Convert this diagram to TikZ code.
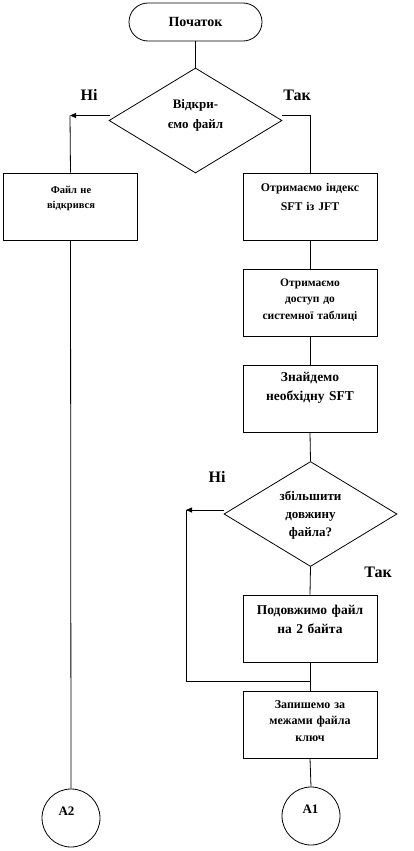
\documentclass[tikz,border=0pt]{standalone}
\usepackage{fontspec}
\setmainfont{Liberation Serif}
\usetikzlibrary{shapes.geometric,arrows.meta}
\tikzset{
  line/.style={draw=black, line width=0.8pt},
  procbox/.style={line, rectangle, minimum width=134pt, minimum height=67pt, inner sep=0pt},
  termbox/.style={line, rectangle, rounded corners=19pt, minimum width=133pt, minimum height=38pt, inner sep=0pt, font=\bfseries\fontsize{14}{16}\selectfont},
  decis/.style={line, diamond, minimum width=173pt, minimum height=105pt, inner sep=0pt},
  conn/.style={line, circle, minimum size=58pt, inner sep=0pt},
  boxtext/.style={align=center, inner sep=0pt, font=\bfseries\fontsize{11.5}{17}\selectfont},
  branch/.style={inner sep=0pt, font=\bfseries\fontsize{16}{18}\selectfont},
  arr/.style={line, -{Triangle[length=6pt,width=5pt]}}
}
\begin{document}
\begin{tikzpicture}[x=1pt,y=-1pt]
\useasboundingbox (0,0) rectangle (414,851);
% nodes
\node[termbox] (start) at (195.5,22) {Початок};
\node[decis] (d1) at (195.5,120.5) {};
\node[boxtext, text width=110pt, font=\bfseries\fontsize{13}{20}\selectfont] (d1t) at (195.5,115.5) {Відкри-\\ємо файл};
\node[branch] (no1) at (89,95) {Ні};
\node[branch] (yes1) at (297,95) {Так};
\node[procbox] (fail) at (70.5,206.5) {};
\node[boxtext, text width=130pt, font=\bfseries\fontsize{10.5}{15.5}\selectfont] (failt) at (71,198.5) {Файл не\\відкрився};
\node[procbox] (b1) at (310,206.5) {};
\node[boxtext, text width=134pt, font=\bfseries\fontsize{11.8}{19}\selectfont] (b1t) at (310,196.5) {Отримаємо індекс\\SFT із JFT};
\node[procbox] (b2) at (310,302.5) {};
\node[boxtext, text width=134pt, font=\bfseries\fontsize{11.5}{16.5}\selectfont] (b2t) at (310,300) {Отримаємо\\доступ до\\системної таблиці};
\node[procbox] (b3) at (310,398.5) {};
\node[boxtext, text width=134pt, font=\bfseries\fontsize{13.5}{19}\selectfont] (b3t) at (310,387.5) {Знайдемо\\необхідну SFT};
\node[decis] (d2) at (310.5,514) {};
\node[boxtext, text width=120pt, font=\bfseries\fontsize{13}{18}\selectfont] (d2t) at (310.5,515) {збільшити\\довжину\\файла?};
\node[branch] (no2) at (217,477) {Ні};
\node[branch] (yes2) at (378,572) {Так};
\node[procbox] (b4) at (310,628.5) {};
\node[boxtext, text width=134pt, font=\bfseries\fontsize{13.5}{19}\selectfont] (b4t) at (310,619.5) {Подовжимо файл\\на 2 байта};
\node[procbox] (b5) at (310,724.5) {};
\node[boxtext, text width=134pt, font=\bfseries\fontsize{12}{16.5}\selectfont] (b5t) at (310,721) {Запишемо за\\межами файла\\ключ};
\node[conn] (a2) at (71,818) {};
\node[boxtext, font=\bfseries\fontsize{13}{15}\selectfont] (a2t) at (66.5,811) {A2};
\node[conn] (a1) at (311,816) {};
\node[boxtext, font=\bfseries\fontsize{13}{15}\selectfont] (a1t) at (310.5,809) {A1};
% coordinates
\coordinate (c1l) at (70,115.5);
\coordinate (c1ls) at (110,115.5);
\coordinate (c1rs) at (282,115.5);
\coordinate (c1r) at (310,115.5);
\coordinate (c2l) at (186,510);
\coordinate (c2ls) at (224,510);
\coordinate (c2b) at (186,681);
\coordinate (j2) at (310,681);
% connectors
\draw[line] (start.south) -- (d1.north);
\draw[arr] (c1ls) -- (c1l);
\draw[line] (c1l) -- (fail.north);
\draw[line] (c1rs) -- (c1r) -- (b1.north);
\draw[line] (b1.south) -- (b2.north);
\draw[line] (b2.south) -- (b3.north);
\draw[line] (b3.south) -- (d2.north);
\draw[arr] (c2ls) -- (c2l);
\draw[line] (c2l) -- (c2b) -- (j2);
\draw[line] (d2.south) -- (b4.north);
\draw[line] (b4.south) -- (b5.north);
\draw[line] (b5.south) -- (a1.north);
\draw[line] (fail.south) -- (a2.north);
\end{tikzpicture}
\end{document}
